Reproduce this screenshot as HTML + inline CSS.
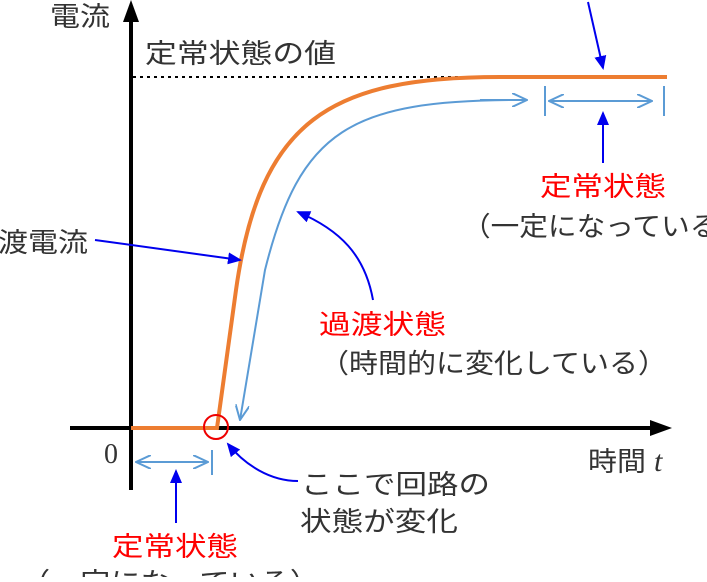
<!DOCTYPE html>
<html><head><meta charset="utf-8"><style>
body{margin:0;background:#fff;width:707px;height:577px;overflow:hidden}
svg text{font-family:"Liberation Sans","Noto Sans CJK JP",sans-serif;font-size:27px;fill:#333}
</style></head><body>
<svg width="707" height="577" viewBox="0 0 707 577">
<defs>
<marker id="bl" markerWidth="14" markerHeight="12" refX="12" refY="6" orient="auto" markerUnits="userSpaceOnUse"><path d="M0,0 L14,6 L0,12 z" fill="#0000ee"/></marker>
<marker id="lb" markerWidth="16" markerHeight="14" refX="15" refY="7" orient="auto" markerUnits="userSpaceOnUse"><path d="M0,0 L15,7 L0,14" fill="none" stroke="#5b9bd5" stroke-width="2"/></marker>
</defs>
<line x1="131" y1="490" x2="131" y2="14" stroke="#000" stroke-width="4"/>
<path d="M131,0 L139,22 L123,22 z" fill="#000"/>
<line x1="70" y1="428" x2="655" y2="428" stroke="#000" stroke-width="4"/>
<path d="M672,428 L650,420 L650,436 z" fill="#000"/>
<line x1="133" y1="77" x2="667" y2="77" stroke="#000" stroke-width="2" stroke-dasharray="3,4"/>
<path d="M131,428 L217,428 L236,290 C260,120 330,77 500,77 L667,77" fill="none" stroke="#ed7d31" stroke-width="4"/>
<path d="M527,100 L520,100 C350,100 300,130 265,270 L240,420" fill="none" stroke="#5b9bd5" stroke-width="2" marker-end="url(#lb)"/>
<path d="M480,100 L527,100" fill="none" stroke="#5b9bd5" stroke-width="2" marker-end="url(#lb)"/>
<line x1="545" y1="86" x2="545" y2="116" stroke="#5b9bd5" stroke-width="2"/>
<line x1="664" y1="86" x2="664" y2="116" stroke="#5b9bd5" stroke-width="2"/>
<line x1="560" y1="101" x2="652" y2="101" stroke="#5b9bd5" stroke-width="2" marker-end="url(#lb)"/>
<line x1="650" y1="101" x2="549" y2="101" stroke="#5b9bd5" stroke-width="2" marker-end="url(#lb)"/>
<line x1="212" y1="450" x2="212" y2="475" stroke="#5b9bd5" stroke-width="2"/>
<line x1="150" y1="462" x2="208" y2="462" stroke="#5b9bd5" stroke-width="2" marker-end="url(#lb)"/>
<line x1="200" y1="462" x2="136" y2="462" stroke="#5b9bd5" stroke-width="2" marker-end="url(#lb)"/>
<circle cx="216" cy="427" r="12" fill="none" stroke="#e00" stroke-width="2"/>
<line x1="588" y1="2" x2="603" y2="68" stroke="#0000ee" stroke-width="2" marker-end="url(#bl)"/>
<line x1="603" y1="163" x2="603" y2="113" stroke="#0000ee" stroke-width="2" marker-end="url(#bl)"/>
<line x1="95" y1="240" x2="240" y2="260" stroke="#0000ee" stroke-width="2" marker-end="url(#bl)"/>
<path d="M373,300 C365,255 340,230 298,212" fill="none" stroke="#0000ee" stroke-width="2" marker-end="url(#bl)"/>
<line x1="176" y1="523" x2="176" y2="471" stroke="#0000ee" stroke-width="2" marker-end="url(#bl)"/>
<path d="M298,481 C270,481 245,465 228,444" fill="none" stroke="#0000ee" stroke-width="2" marker-end="url(#bl)"/>
<text x="50" y="26" textLength="60" lengthAdjust="spacingAndGlyphs">電流</text>
<text x="145" y="63" textLength="191" lengthAdjust="spacingAndGlyphs">定常状態の値</text>
<text x="540" y="196" textLength="126" lengthAdjust="spacingAndGlyphs" style="fill:#f00">定常状態</text>
<text x="462" y="236" textLength="285" lengthAdjust="spacingAndGlyphs">（一定になっている）</text>
<text x="-32" y="252" textLength="120" lengthAdjust="spacingAndGlyphs">過渡電流</text>
<text x="319" y="334" textLength="127" lengthAdjust="spacingAndGlyphs" style="fill:#f00">過渡状態</text>
<text x="320" y="373" textLength="347" lengthAdjust="spacingAndGlyphs">（時間的に変化している）</text>
<text x="104" y="463" style="font-family:'Liberation Serif',serif;font-size:28px">0</text>
<text x="588" y="471" textLength="58" lengthAdjust="spacingAndGlyphs">時間</text>
<text x="654" y="471" style="font-family:'Liberation Serif',serif;font-style:italic;font-size:30px">t</text>
<text x="301" y="494" textLength="189" lengthAdjust="spacingAndGlyphs">ここで回路の</text>
<text x="300" y="531" textLength="158" lengthAdjust="spacingAndGlyphs">状態が変化</text>
<text x="112" y="556" textLength="126" lengthAdjust="spacingAndGlyphs" style="fill:#f00">定常状態</text>
<text x="20" y="592" textLength="300" lengthAdjust="spacingAndGlyphs">（一定になっている）</text>
</svg>
</body></html>
